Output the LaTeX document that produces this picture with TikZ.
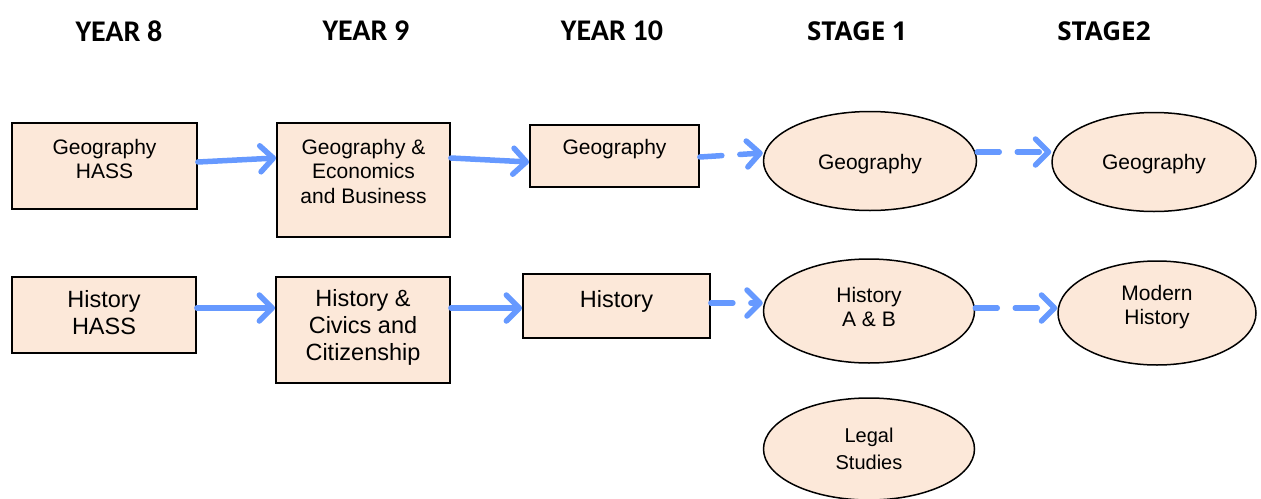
\documentclass[tikz,border=0pt]{standalone}
\usepackage{fontspec}
\setmainfont{Liberation Sans}
\newfontfamily\yearfont{Carlito}
\newfontfamily\stagefont{Open Sans}
\usetikzlibrary{arrows.meta,shapes.geometric}
\definecolor{peach}{RGB}{252,232,217}
\definecolor{arrblue}{RGB}{102,153,255}
\begin{document}
\begin{tikzpicture}[x=1pt,y=-1pt,
  box/.style={draw=black,line width=1.8pt,fill=peach,inner sep=0pt},
  oval/.style={ellipse,draw=black,line width=1.5pt,fill=peach,inner sep=0pt,align=center},
  txt/.style={align=center,inner sep=0pt},
  geofont/.style={font=\fontsize{21}{24.5}\selectfont},
  histfont/.style={font=\fontsize{23.5}{27}\selectfont},
  ovfont/.style={font=\fontsize{21}{24.5}\selectfont},
  yearhead/.style={font=\yearfont\bfseries\fontsize{30}{32}\selectfont},
  stagehead/.style={font=\stagefont\bfseries\fontsize{26}{30}\selectfont},
  conn/.style={draw=arrblue,line width=5.5pt,line cap=round,
    -{Straight Barb[length=13pt,width=26pt,line width=5.5pt,round]}},
  dconn/.style={conn,dash pattern=on 22pt off 18pt}
]
\useasboundingbox (0,0) rectangle (1261,498);

% headers
\node[yearhead] (hy8) at (119,31) {YEAR 8};
\node[yearhead] (hy9) at (366,31) {YEAR 9};
\node[yearhead] (hy10) at (612,31) {YEAR 10};
\node[stagehead] (hs1) at (857,31) {STAGE 1};
\node[stagehead] (hs2) at (1104,31) {STAGE2};

% row 1
\node[box,minimum width=185pt,minimum height=86pt] (g8) at (104.5,166) {};
\node[txt,geofont] (g8t) at (104.5,159) {Geography\\HASS};
\node[box,minimum width=173pt,minimum height=114pt] (g9) at (363.5,180) {};
\node[txt,geofont] (g9t) at (363.5,171) {Geography \&\\Economics\\and Business};
\node[box,minimum width=169pt,minimum height=62pt] (g10) at (614.5,156) {};
\node[txt,geofont] (g10t) at (614.5,149) {Geography};
\node[oval,minimum width=213pt,minimum height=99pt] (g11) at (870,161) {};
\node[txt,ovfont] (g11t) at (870,164) {Geography};
\node[oval,minimum width=204pt,minimum height=99pt] (g12) at (1154,162) {};
\node[txt,ovfont] (g12t) at (1154,164) {Geography};

% row 2
\node[box,minimum width=184pt,minimum height=76pt] (h8) at (104,315) {};
\node[txt,histfont] (h8t) at (104,313) {History\\HASS};
\node[box,minimum width=174pt,minimum height=106pt] (h9) at (363,330) {};
\node[txt,histfont] (h9t) at (363,327) {History \&\\Civics and\\Citizenship};
\node[box,minimum width=187pt,minimum height=64pt] (h10) at (616.5,306) {};
\node[txt,histfont] (h10t) at (616.5,301) {History};
\node[oval,minimum width=211pt,minimum height=104pt] (h11) at (869,311) {};
\node[txt,ovfont] (h11t) at (869,307) {History\\A \& B};
\node[oval,minimum width=198pt,minimum height=104pt] (h12) at (1157,313) {};
\node[txt,ovfont] (h12t) at (1157,307) {Modern\\History};

% row 3
\node[oval,font=\fontsize{20}{27}\selectfont,minimum width=211pt,minimum height=102pt] (ls) at (869,449) {Legal\\Studies};

% connectors
\draw[conn] ([yshift=4pt]g8.east) -- ([yshift=22pt]g9.west);
\draw[conn] ([yshift=22pt]g9.east) -- ([yshift=-6pt]g10.west);
\draw[dconn] ([yshift=-1pt]g10.east) -- ([yshift=8pt]g11.west);
\draw[dconn] ([yshift=9pt]g11.east) -- ([yshift=10pt]g12.west);

\draw[conn] ([yshift=7pt]h8.east) -- ([yshift=22pt]h9.west);
\draw[conn] ([yshift=22pt]h9.east) -- ([yshift=-2pt]h10.west);
\draw[dconn] ([yshift=3pt]h10.east) -- ([yshift=8pt]h11.west);
\draw[dconn] ([yshift=3pt]h11.east) -- ([yshift=5pt]h12.west);
\end{tikzpicture}
\end{document}
